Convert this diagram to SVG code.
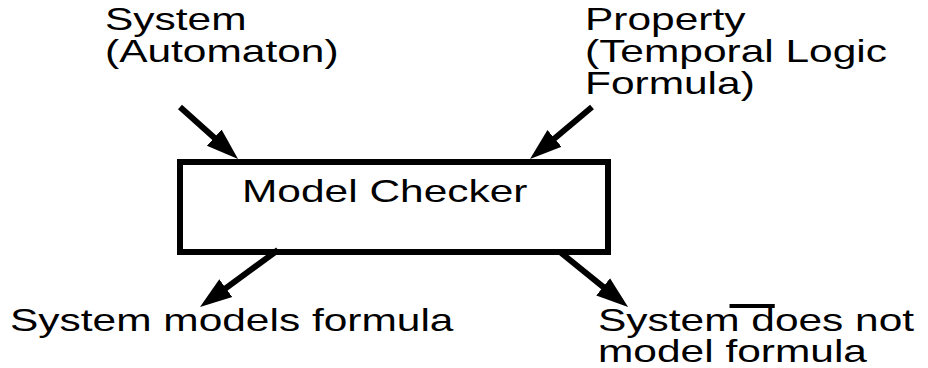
<svg xmlns="http://www.w3.org/2000/svg" width="928" height="368" viewBox="0 0 928 368">
  <style>
    .lbl { font-family: "Liberation Sans", Arial, Helvetica, sans-serif; font-size: 31px; fill: #000; }
    .box { fill: #fff; stroke: #000; stroke-width: 6; }
    .conn { stroke: #000; stroke-width: 6; fill: none; marker-end: url(#head); }
  </style>
  <defs>
    <marker id="head" viewBox="0 -12 34 24" refX="2" refY="0" markerWidth="34" markerHeight="24" markerUnits="userSpaceOnUse" orient="auto">
      <path d="M0,-11 L32,0 L0,11 z" fill="#000"/>
    </marker>
  </defs>
  <rect width="928" height="368" fill="#fff"/>

  <g id="system-input">
    <text class="lbl" transform="translate(105 29.5) scale(1.37 1)"><tspan x="0" y="0">System</tspan><tspan x="0" dy="32.5">(Automaton)</tspan></text>
  </g>

  <g id="property-input">
    <text class="lbl" transform="translate(585 29.5) scale(1.37 1)"><tspan x="0" y="0">Property</tspan><tspan x="0" dy="32.5">(Temporal Logic</tspan><tspan x="0" dy="32.5">Formula)</tspan></text>
  </g>

  <g id="model-checker">
    <rect class="box" x="180" y="162" width="428" height="90"/>
    <text class="lbl" transform="translate(242 202) scale(1.37 1)">Model Checker</text>
  </g>

  <g id="result-models">
    <text class="lbl" transform="translate(10 331) scale(1.37 1)">System models formula</text>
  </g>

  <g id="result-not-models">
    <g transform="translate(598 331) scale(1.37 1)">
      <text class="lbl"><tspan x="0" y="0">System does not</tspan><tspan x="0" dy="31">model formula</tspan></text>
      <rect x="96" y="-27" width="33" height="4" fill="#000"/>
    </g>
  </g>

  <g id="connectors">
    <line class="conn" x1="180" y1="107" x2="215.7" y2="139"/>
    <line class="conn" x1="592" y1="107" x2="553" y2="139.7"/>
    <line class="conn" x1="278" y1="250" x2="224.2" y2="289.3"/>
    <line class="conn" x1="560" y1="252" x2="604.7" y2="288.1"/>
  </g>
</svg>
